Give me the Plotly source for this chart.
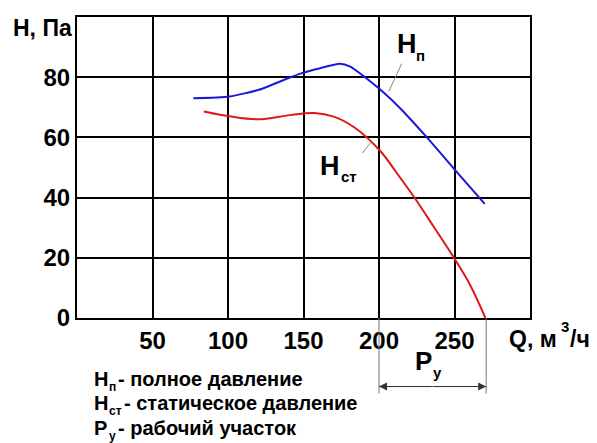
import plotly.graph_objects as go

# Full pressure H_п
q_total = [77, 101, 121, 141, 148, 161, 174, 181, 192, 201, 214, 231, 250, 270]
h_total = [73, 73.6, 75.9, 79.9, 81.2, 83, 84.5, 83.5, 79.5, 75.8, 69.7, 60.4, 49.4, 37.9]

# Static pressure H_ст
q_static = [84, 101, 120, 141, 157, 170, 184, 201, 212, 224, 236, 250, 260, 270.5]
h_static = [68.6, 67, 66, 67.4, 68.1, 66.9, 63.2, 55.4, 48, 39.6, 30.5, 19.7, 11.3, 0]

x_ticks = [50, 100, 150, 200, 250]
y_ticks = [0, 20, 40, 60, 80]

work_range = [200, 271]

FONT = "Liberation Sans"
OFF = 8  # body margin of the page
W, H = 597 - OFF, 443 - OFF
L, T = 77 - OFF, 15 - OFF
R = W - (530 - OFF)
B = H - (318 - OFF)
PW, PH = W - L - R, H - T - B


def px(x):
    return (x - OFF - L) / PW


def py(y):
    return (H - B - (y - OFF)) / PH


fig = go.Figure()
fig.add_trace(go.Scatter(x=q_total, y=h_total, mode="lines",
                         line=dict(color="#1a1ad6", width=2, shape="spline", smoothing=0.6),
                         hoverinfo="skip", showlegend=False))
fig.add_trace(go.Scatter(x=q_static, y=h_static, mode="lines",
                         line=dict(color="#e01818", width=2, shape="spline", smoothing=1.0),
                         hoverinfo="skip", showlegend=False))

axis_common = dict(showgrid=True, gridcolor="black", gridwidth=2, zeroline=False,
                   showline=True, linecolor="black", linewidth=2, mirror=True,
                   ticks="", tickfont=dict(family=FONT, size=24, color="black", weight="bold"))
fig.update_xaxes(range=[0, 300], tickvals=x_ticks, ticktext=[str(v) for v in x_ticks], **axis_common)
fig.update_yaxes(range=[0, 100], tickvals=y_ticks, ticktext=[str(v) for v in y_ticks], **axis_common)

anns = []


def txt(text, x, y, size, xanchor="left", yanchor="middle"):
    anns.append(dict(text=text, x=px(x), y=py(y), xref="paper", yref="paper",
                     xanchor=xanchor, yanchor=yanchor, showarrow=False,
                     font=dict(family=FONT, size=size, color="black", weight="bold")))


# axis titles
txt("H, Па", 74, 26, 23, xanchor="right")
txt("Q, м", 507, 339, 23)
txt("3", 559, 327, 15)
txt("/ч", 568, 339, 23)

# curve labels
txt("H", 395, 42, 27)
txt("п", 414, 54, 15)
txt("H", 318, 165, 27)
txt("ст", 339, 176, 15)

# working range label
txt("P", 413, 361, 26)
txt("у", 431, 373, 15)

# legend text lines
txt("H", 92, 379, 20)
txt("п", 107, 387, 12)
txt("- полное давление", 116, 379, 20)
txt("H", 92, 404, 20)
txt("ст", 107, 412, 12)
txt("- статическое давление", 122, 404, 20)
txt("P", 92, 429, 20)
txt("у", 107, 437, 12)
txt("- рабочий участок", 116, 429, 20)

# arrows of the working-range dimension
mid = sum(work_range) / 2
for xe in work_range:
    anns.append(dict(x=xe, y=py(387), xref="x", yref="paper", ax=mid, ay=0, axref="x",
                     ayref="pixel", text="", showarrow=True, arrowhead=2, arrowsize=1.6,
                     arrowwidth=1, arrowcolor="#333333"))
fig.update_layout(annotations=anns)

shapes = []
for xe in work_range:
    shapes.append(dict(type="line", xref="x", yref="paper", x0=xe, x1=xe, y0=0, y1=py(394),
                       line=dict(color="#777777", width=1)))
shapes.append(dict(type="line", xref="x", yref="paper", x0=work_range[0], x1=work_range[1],
                   y0=py(387), y1=py(387), line=dict(color="#555555", width=1)))
# leader lines
shapes.append(dict(type="line", xref="x", yref="y", x0=215, y0=84.5, x1=206.5, y1=75.3,
                   line=dict(color="#888888", width=1)))
shapes.append(dict(type="line", xref="x", yref="y", x0=189, y0=54.8, x1=194.5, y1=58.3,
                   line=dict(color="#888888", width=1)))
fig.update_layout(shapes=shapes)

fig.update_layout(width=W, height=H, margin=dict(l=L, r=R, t=T, b=B, pad=0),
                  paper_bgcolor="white", plot_bgcolor="white", showlegend=False)

fig.write_html("out.html")
